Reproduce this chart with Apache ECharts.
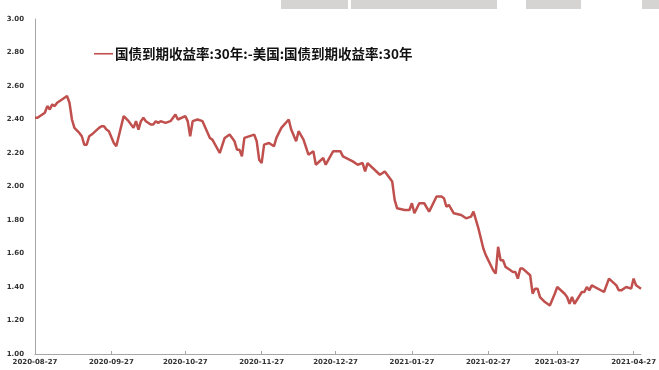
<!DOCTYPE html>
<html>
<head>
<meta charset="utf-8">
<script src="https://cdn.jsdelivr.net/npm/echarts@6/dist/echarts.min.js"></script>
<style>
  html, body { margin: 0; padding: 0; background: #fff; }
  #chart { width: 659px; height: 370px; }
</style>
</head>
<body>
<div id="chart"></div>
<script>
// Spread: China 30Y government bond yield minus US 30Y Treasury yield (%)
const seriesName = '国债到期收益率:30年:-美国:国债到期收益率:30年';

const dates = [
  '2020-08-27','2020-08-28','2020-08-31','2020-09-01','2020-09-02','2020-09-03','2020-09-04','2020-09-05',
  '2020-09-08','2020-09-09','2020-09-10','2020-09-11','2020-09-12','2020-09-14','2020-09-15','2020-09-16',
  '2020-09-17','2020-09-18','2020-09-19','2020-09-22','2020-09-23','2020-09-24','2020-09-25','2020-09-26',
  '2020-09-28','2020-09-29','2020-09-30','2020-10-02','2020-10-04','2020-10-06','2020-10-07','2020-10-08',
  '2020-10-09','2020-10-10','2020-10-11','2020-10-13','2020-10-14','2020-10-15','2020-10-16','2020-10-17',
  '2020-10-19','2020-10-21','2020-10-23','2020-10-24','2020-10-27','2020-10-28','2020-10-29','2020-10-30',
  '2020-11-01','2020-11-03','2020-11-06','2020-11-07','2020-11-10','2020-11-12','2020-11-14','2020-11-16',
  '2020-11-17','2020-11-18','2020-11-19','2020-11-20','2020-11-24','2020-11-25','2020-11-26','2020-11-27',
  '2020-11-28','2020-11-30','2020-12-02','2020-12-03','2020-12-05','2020-12-08','2020-12-09','2020-12-11',
  '2020-12-12','2020-12-14','2020-12-16','2020-12-18','2020-12-19','2020-12-22','2020-12-23','2020-12-26',
  '2020-12-29','2020-12-30','2021-01-03','2021-01-05','2021-01-07','2021-01-08','2021-01-09','2021-01-14',
  '2021-01-16','2021-01-19','2021-01-20','2021-01-21','2021-01-24','2021-01-26','2021-01-27','2021-01-28',
  '2021-01-30','2021-02-01','2021-02-03','2021-02-06','2021-02-08','2021-02-09','2021-02-10','2021-02-11',
  '2021-02-13','2021-02-16','2021-02-18','2021-02-20','2021-02-21','2021-02-23','2021-02-25','2021-02-26',
  '2021-03-01','2021-03-02','2021-03-03','2021-03-04','2021-03-05','2021-03-06','2021-03-07','2021-03-09',
  '2021-03-10','2021-03-11','2021-03-12','2021-03-13','2021-03-16','2021-03-17','2021-03-18','2021-03-19',
  '2021-03-20','2021-03-22','2021-03-24','2021-03-26','2021-03-27','2021-03-30','2021-03-31','2021-04-01',
  '2021-04-02','2021-04-03','2021-04-06','2021-04-07','2021-04-08','2021-04-09','2021-04-10','2021-04-15',
  '2021-04-17','2021-04-20','2021-04-21','2021-04-22','2021-04-24','2021-04-26','2021-04-27','2021-04-28',
  '2021-04-29','2021-04-30'
];

const spread = [
  2.41,2.41,2.44,2.48,2.46,2.49,2.48,2.50,
  2.53,2.54,2.50,2.40,2.35,2.32,2.30,2.25,
  2.25,2.30,2.31,2.35,2.36,2.36,2.34,2.33,
  2.26,2.24,2.30,2.42,2.39,2.35,2.39,2.34,
  2.39,2.41,2.39,2.37,2.37,2.39,2.38,2.39,
  2.38,2.39,2.43,2.40,2.42,2.39,2.30,2.39,
  2.40,2.39,2.29,2.28,2.20,2.29,2.31,2.27,
  2.22,2.22,2.18,2.29,2.31,2.27,2.16,2.14,
  2.25,2.26,2.24,2.29,2.35,2.40,2.34,2.27,
  2.33,2.28,2.19,2.21,2.13,2.17,2.13,2.21,
  2.21,2.18,2.15,2.13,2.14,2.09,2.14,2.07,
  2.09,2.03,1.92,1.87,1.86,1.86,1.90,1.84,
  1.90,1.90,1.85,1.94,1.94,1.93,1.88,1.89,
  1.84,1.83,1.81,1.82,1.85,1.75,1.63,1.59,
  1.50,1.48,1.64,1.56,1.56,1.52,1.51,1.49,
  1.49,1.45,1.51,1.51,1.47,1.36,1.39,1.39,
  1.34,1.31,1.29,1.36,1.40,1.36,1.34,1.30,
  1.34,1.30,1.37,1.37,1.40,1.38,1.41,1.37,
  1.45,1.41,1.38,1.38,1.40,1.39,1.45,1.41,
  1.40,1.39
];

const xTickDates = [
  '2020-08-27','2020-09-27','2020-10-27','2020-11-27','2020-12-27',
  '2021-01-27','2021-02-27','2021-03-27','2021-04-27'
];
const xRange = ['2020-08-27', '2021-04-30'];
const yRange = [1.0, 3.0];
const yStep = 0.2;

function ts(s) {
  const p = s.split('-').map(Number);
  return new Date(p[0], p[1] - 1, p[2]).getTime();
}
function fmtDate(v) {
  const d = new Date(v);
  const mm = String(d.getMonth() + 1).padStart(2, '0');
  const dd = String(d.getDate()).padStart(2, '0');
  return d.getFullYear() + '-' + mm + '-' + dd;
}

const points = dates.map((d, i) => [ts(d), spread[i]]);
const tickValues = xTickDates.map(ts);

const labelFont = {
  fontFamily: 'DejaVu Sans',
  fontSize: 7,
  fontWeight: 'bold',
  color: '#333'
};

const chart = echarts.init(document.getElementById('chart'), null, { renderer: 'canvas' });
chart.setOption({
  backgroundColor: '#ffffff',
  animation: false,
  graphic: [
    { type: 'rect', shape: { x: 281, y: 0, width: 67, height: 9 }, style: { fill: '#d6d3d3' } },
    { type: 'rect', shape: { x: 351, y: 0, width: 146, height: 9 }, style: { fill: '#d6d3d3' } },
    { type: 'rect', shape: { x: 526, y: 0, width: 55, height: 9 }, style: { fill: '#d6d3d3' } },
    { type: 'rect', shape: { x: 642, y: 0, width: 17, height: 9 }, style: { fill: '#d6d3d3' } }
  ],
  legend: {
    left: 89,
    top: 42,
    itemWidth: 19,
    itemHeight: 10,
    icon: 'path://M0,4.2 L19,4.2 L19,5.8 L0,5.8 Z',
    textStyle: {
      fontFamily: 'Noto Sans CJK SC',
      fontSize: 13.5,
      fontWeight: 'bold',
      color: '#111',
      padding: [0, 0, 0, -3]
    },
    data: [seriesName]
  },
  grid: { left: 35, right: 14, top: 19, bottom: 16 },
  xAxis: {
    // dates are plotted as timestamps on a linear scale
    type: 'value',
    min: ts(xRange[0]),
    max: ts(xRange[1]),
    axisLine: { show: true, lineStyle: { color: '#a6a6a6', width: 1 } },
    axisTick: {
      show: true,
      inside: true,
      length: 3,
      customValues: tickValues,
      lineStyle: { color: '#a6a6a6' }
    },
    axisLabel: Object.assign({
      customValues: tickValues,
      margin: 5,
      formatter: fmtDate
    }, labelFont),
    splitLine: { show: false }
  },
  yAxis: {
    type: 'value',
    min: yRange[0],
    max: yRange[1],
    interval: yStep,
    axisLine: { show: true, lineStyle: { color: '#a6a6a6', width: 1 } },
    axisTick: { show: false },
    axisLabel: Object.assign({
      margin: 11,
      formatter: v => v.toFixed(2)
    }, labelFont),
    splitLine: { show: false }
  },
  series: [{
    name: seriesName,
    type: 'line',
    data: points,
    symbol: 'none',
    lineStyle: { color: '#c0504d', width: 2.5 },
    itemStyle: { color: '#c0504d' }
  }]
});
</script>
</body>
</html>
